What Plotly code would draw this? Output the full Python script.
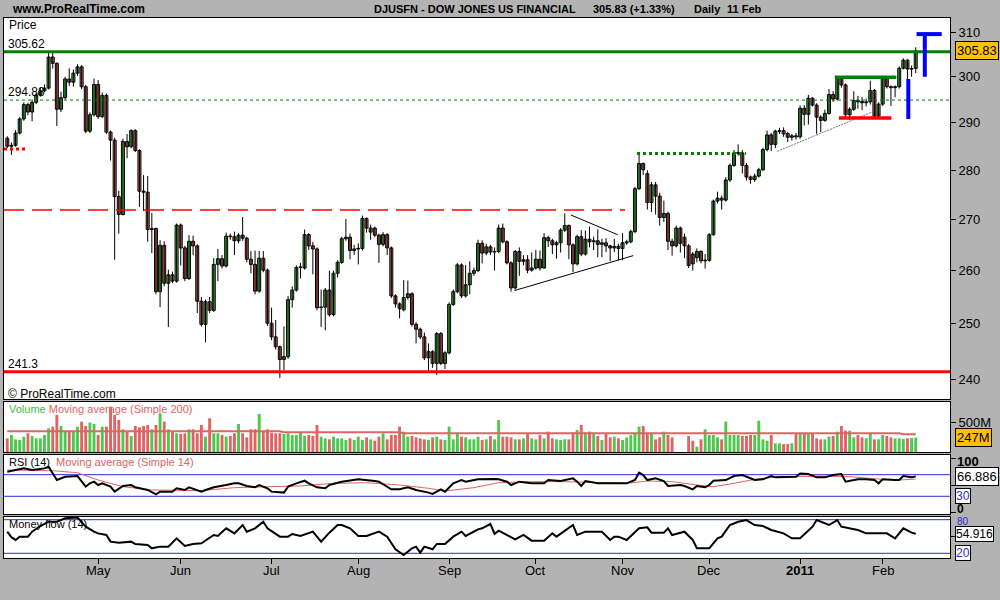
import math
import plotly.graph_objects as go

# ---------------- data ----------------
opens = [286.7, 285.0, 285.2, 287.8, 290.8, 293.9, 292.3, 294.4, 296.0, 296.9,
         297.5, 304.4, 303.0, 292.9, 295.4, 299.5, 298.8, 300.8, 302.2, 297.8,
         288.2, 291.7, 298.3, 291.3, 295.9, 288.0, 286.3, 274.6, 271.0, 286.0,
         284.9, 288.3, 284.1, 275.7, 275.5, 268.0, 268.2, 256.0, 264.9, 257.6,
         259.2, 258.0, 268.9, 264.4, 258.5, 265.7, 264.8, 254.2, 249.9, 254.1,
         252.5, 261.2, 262.3, 260.9, 266.7, 266.6, 265.8,
         266.9, 266.3, 262.2, 261.2, 256.1, 262.4, 260.1, 250.1, 247.6, 245.8,
         243.5, 244.0, 254.5, 256.3, 260.6, 260.5, 267.0, 264.8, 264.2, 253.0,
         253.1, 256.3, 251.7, 259.5, 261.6, 266.2, 266.5, 263.9, 264.2, 264.3,
         270.2, 267.5, 268.3, 266.9, 265.1, 267.0, 264.4, 255.2, 253.7, 252.6,
         254.9, 255.6, 249.9, 249.0, 247.6, 243.8, 244.9, 242.8, 248.2, 242.8,
         244.7, 253.6, 256.0, 261.1, 255.2, 257.3,
         259.5, 260.0, 265.3, 263.4, 264.6, 263.6, 263.7, 268.3, 265.6, 261.5,
         256.7, 263.7, 261.8, 262.1, 260.1, 260.5, 262.2, 260.5, 266.4, 265.8,
         265.0, 265.4, 267.9, 268.8, 265.0, 261.3, 266.6, 263.2, 266.1, 265.6,
         265.8, 265.1, 265.4, 264.8, 264.4, 264.7, 264.3, 265.4, 265.6,
         267.6, 276.2, 281.4, 279.3, 273.4, 277.0, 274.7, 270.4, 271.2, 265.7,
         264.8, 268.3, 266.5, 264.8, 263.2, 262.5, 263.7, 261.9, 262.0, 267.0,
         273.7, 274.3, 273.9, 278.0, 281.0, 283.5, 283.6, 281.0, 278.6, 278.1,
         278.8, 280.1, 284.3, 287.4,
         285.4, 288.1, 288.3, 287.7, 286.9, 287.2, 287.0, 293.1, 291.8, 295.3,
         293.8, 291.2, 290.5, 292.0, 296.1, 295.1, 299.6, 298.2, 291.7, 292.9,
         294.8, 294.6, 294.3, 294.5, 297.0, 291.4, 294.0, 299.6, 297.8, 297.6,
         297.8, 301.9, 303.7, 301.7, 301.83]
highs = [287.1, 285.8, 288.4, 291.2, 294.4, 294.3, 295.0, 296.5, 297.6, 298.3,
         305.4, 305.4, 303.2, 296.7, 300.0, 301.9, 301.6, 302.8, 302.6, 298.2,
         292.2, 299.6, 299.3, 296.5, 296.3, 288.3, 286.8, 275.8, 286.6, 287.6,
         288.6, 288.6, 284.4, 279.0, 278.8, 271.3, 268.4, 265.9, 265.7, 260.2,
         259.8, 269.2, 269.2, 264.8, 266.9, 266.8, 265.1, 255.0, 254.5, 255.0,
         262.4, 264.2, 263.0, 267.4, 267.2, 267.6, 267.3,
         270.5, 266.6, 263.8, 263.9, 263.8, 263.8, 260.4, 253.0, 250.7, 246.0,
         249.5, 255.2, 257.0, 261.0, 261.5, 268.0, 267.3, 265.6, 264.5, 256.4,
         256.7, 260.0, 260.0, 262.0, 266.6, 270.1, 267.2, 265.0, 265.3, 270.8,
         270.4, 269.0, 268.6, 267.2, 267.5, 267.3, 264.7, 255.5, 254.0, 258.2,
         258.1, 255.9, 250.3, 249.3, 248.4, 246.4, 245.2, 248.5, 248.5, 245.0,
         254.0, 256.4, 261.5, 261.4, 261.1, 261.8,
         260.6, 266.0, 265.9, 265.2, 265.0, 264.5, 269.0, 269.2, 265.9, 261.8,
         264.0, 264.5, 263.0, 263.0, 263.5, 264.0, 263.9, 267.3, 266.8, 266.2,
         265.8, 268.3, 271.2, 269.0, 265.3, 267.0, 267.9, 267.8, 268.6, 266.6,
         268.0, 266.2, 266.3, 265.0, 266.2, 265.2, 267.3, 266.0, 268.0,
         276.6, 283.5, 281.6, 280.0, 277.6, 277.6, 275.4, 273.8, 271.6, 266.2,
         268.8, 268.6, 267.2, 265.2, 263.6, 264.3, 264.0, 263.2, 267.3, 274.0,
         275.6, 274.8, 278.6, 281.4, 284.2, 285.4, 284.2, 281.5, 278.9, 279.3,
         280.5, 284.7, 288.3, 287.8,
         288.5, 288.9, 289.0, 288.0, 287.6, 287.8, 293.7, 293.8, 296.0, 295.5,
         294.2, 291.6, 292.8, 297.3, 296.8, 300.0, 300.0, 298.5, 293.3, 296.8,
         295.8, 295.6, 295.2, 299.1, 297.3, 294.4, 300.0, 300.0, 298.1, 298.1,
         302.3, 304.1, 304.0, 302.5, 306.6]
lows = [284.6, 283.2, 284.9, 287.5, 290.4, 291.6, 290.3, 294.0, 295.6, 296.6,
        297.2, 301.8, 289.3, 292.3, 295.0, 298.0, 297.8, 300.2, 297.3, 287.8,
        287.8, 291.3, 290.8, 291.0, 287.6, 282.0, 262.1, 267.2, 270.8, 282.5,
        284.6, 283.8, 272.5, 271.7, 265.6, 263.4, 255.5, 253.1, 257.0, 249.4,
        257.6, 257.7, 261.0, 258.0, 258.2, 263.0, 252.0, 249.5, 246.6, 252.0,
        252.2, 258.0, 260.4, 260.6, 266.0, 263.0, 265.3,
        265.8, 261.6, 259.5, 255.5, 255.8, 259.7, 249.6, 247.0, 245.3, 240.2,
        241.6, 243.6, 253.0, 256.0, 258.5, 260.2, 264.0, 259.3, 252.5, 249.4,
        248.8, 251.3, 251.4, 258.7, 261.3, 265.8, 262.2, 263.0, 261.2, 263.9,
        267.4, 266.0, 266.5, 261.5, 264.7, 263.0, 254.8, 253.0, 251.0, 252.3,
        254.5, 249.5, 246.4, 247.2, 243.4, 241.2, 242.0, 240.7, 242.5, 241.8,
        244.4, 253.3, 255.7, 254.8, 254.9, 255.5,
        259.0, 259.7, 261.4, 263.0, 263.0, 260.0, 263.4, 265.3, 261.2, 256.0,
        256.4, 259.0, 261.0, 259.5, 259.8, 260.2, 260.0, 260.4, 264.6, 263.2,
        262.3, 263.5, 267.5, 262.2, 259.7, 261.0, 262.8, 262.9, 264.5, 264.0,
        262.6, 262.6, 263.6, 261.8, 263.6, 262.0, 262.0, 265.0, 265.3,
        267.3, 276.0, 279.0, 272.0, 271.5, 271.0, 268.8, 269.5, 264.0, 262.9,
        264.5, 263.5, 262.4, 260.5, 260.0, 261.6, 261.4, 260.4, 261.7, 266.8,
        273.2, 272.0, 273.6, 277.6, 280.7, 283.0, 279.3, 277.9, 277.2, 277.6,
        278.5, 279.8, 283.9, 284.0,
        284.6, 287.6, 287.0, 285.9, 286.2, 286.4, 286.6, 289.4, 289.6, 293.5,
        287.6, 288.0, 290.2, 291.7, 294.5, 294.8, 297.6, 291.3, 290.6, 292.5,
        293.0, 292.7, 293.5, 293.9, 291.0, 291.0, 293.6, 297.4, 293.6, 295.5,
        297.4, 301.6, 299.4, 300.0, 300.8]
closes = [285.0, 285.2, 287.8, 290.8, 293.9, 292.3, 294.4, 296.0, 296.9, 297.5,
          304.4, 303.0, 292.9, 295.4, 299.5, 298.8, 300.8, 302.2, 297.8, 288.2,
          291.7, 298.3, 291.3, 295.9, 288.0, 286.3, 274.6, 271.0, 286.0, 284.9,
          288.3, 284.1, 275.7, 275.5, 268.0, 268.2, 256.0, 264.9, 257.6, 259.2,
          258.0, 268.9, 264.4, 258.5, 265.7, 264.8, 254.2, 249.9, 254.1, 252.5,
          261.2, 262.3, 260.9, 266.7, 266.6, 265.8, 266.9,
          266.3, 262.2, 261.2, 256.1, 262.4, 260.1, 250.1, 247.6, 245.8, 243.5,
          244.0, 254.5, 256.3, 260.6, 260.7, 267.0, 264.8, 264.2, 253.0, 253.1,
          256.3, 251.7, 259.5, 261.6, 266.2, 266.5, 263.9, 264.2, 264.3, 270.2,
          268.3, 268.3, 266.9, 265.1, 267.0, 264.4, 255.2, 253.7, 252.8, 254.9,
          255.6, 249.9, 249.0, 247.6, 243.8, 244.9, 242.8, 248.2, 242.8, 244.7,
          253.6, 256.0, 261.1, 255.2, 257.3, 259.5,
          260.0, 265.3, 263.4, 264.6, 263.6, 263.7, 268.3, 265.6, 261.5, 256.7,
          263.7, 261.8, 262.1, 260.1, 260.5, 262.2, 260.5, 266.4, 265.8, 265.0,
          265.4, 267.9, 268.8, 265.0, 261.3, 266.6, 263.2, 266.1, 265.6, 265.8,
          265.1, 265.4, 264.8, 264.4, 264.7, 264.3, 265.4, 265.6, 267.6,
          276.2, 281.4, 280.1, 273.4, 277.0, 274.7, 270.4, 271.2, 265.7, 264.8,
          268.3, 265.3, 264.8, 261.0, 261.3, 263.7, 261.9, 262.0, 267.0, 273.7,
          274.3, 273.9, 278.0, 281.0, 283.6, 283.7, 281.0, 278.6, 278.1, 278.8,
          280.1, 284.3, 287.4, 285.4,
          288.2, 288.3, 287.6, 286.9, 287.2, 287.0, 293.1, 291.8, 295.3, 293.8,
          291.2, 290.5, 292.0, 296.1, 295.1, 299.6, 298.2, 291.7, 292.9, 294.8,
          294.5, 294.3, 294.5, 297.0, 291.4, 294.0, 299.6, 297.8, 297.6, 297.8,
          301.9, 303.7, 301.7, 301.83, 305.83]

volume_m = [233, 290, 216, 205, 262, 319, 273, 233, 233, 290, 404,
            432, 632, 444, 347, 347, 347, 432, 518, 444, 501,
            478, 290, 432, 432, 774, 632, 546, 387, 347, 273,
            444, 421, 444, 461, 387, 461, 660, 518, 387, 347,
            319, 307, 319, 387, 387, 319, 462, 262, 575, 319,
            319, 290, 262, 273, 319, 478, 319, 250, 387, 387,
            650, 347, 387, 330, 319, 319, 307, 319, 290, 290,
            330, 273, 290, 273, 461, 262, 233, 216, 262, 233,
            233, 205, 233, 205, 262, 205, 250, 216, 193, 262,
            319, 216, 290, 290, 432, 347, 262, 273, 250, 233,
            216, 205, 250, 262, 216, 205, 432, 216, 319, 262,
            250, 216, 216, 262, 205, 216, 273, 216, 546,
            262, 262, 250, 216, 216, 233, 319, 233, 216, 290,
            233, 347, 233, 216, 205, 216, 216, 330, 376, 461,
            330, 347, 319, 273, 205, 319, 250, 262, 233, 205,
            250, 290, 319, 432, 444, 319, 319, 216, 250, 347,
            290, 250, 0, 0, 0,
            273, 193, 91, 216, 387, 290, 290, 250, 216, 518,
            290, 290, 290, 273, 273, 290, 290, 535, 216, 193,
            290, 148, 148, 137, 137, 148, 307, 307, 307, 307,
            307, 233, 216, 216, 262, 273, 347, 444, 364, 364,
            250, 290, 250, 233, 307, 216, 216, 290, 273, 250,
            233, 233, 222, 233, 240, 247]
volume_ma_idx = [0, 66, 67, 95, 96, 216, 217, 220]
volume_ma_val = [352, 352, 336, 336, 320, 320, 302, 302]

rsi_idx = [0, 2, 4, 6, 9, 10, 12, 14, 17, 19, 20, 21, 22, 23, 25, 26, 28, 30, 31, 34,
           36, 37, 40, 41, 43, 44, 47, 48, 50, 53, 55, 56, 58, 60, 61, 63, 64, 67, 68, 70,
           72, 73, 75, 77, 78, 81, 83, 85, 89, 90, 93, 95, 97, 99, 102, 103, 105, 106, 108, 110,
           111, 114, 118, 119, 121, 122, 124, 127, 130, 131, 134, 135, 137, 138, 139, 140, 142, 143, 147, 150,
           152, 153, 154, 155, 157, 159, 160, 163, 164, 166, 167, 169, 170, 171, 174, 176, 178, 181, 183, 185,
           186, 189, 191, 192, 194, 196, 198, 200, 202, 203, 206, 208, 210, 211, 212, 215, 216, 217, 219, 220]
rsi_val = [75.5, 78.6, 81.7, 78.6, 81.7, 84.7, 60.1, 66.3, 67.5, 47.8, 54.0, 57.1, 50.9, 54.0, 47.8, 38.6, 49.1, 50.9, 46.6, 41.7,
           33.7, 38.6, 38.6, 44.8, 41.7, 46.6, 38.6, 41.7, 46.6, 50.9, 54.0, 54.0, 49.1, 46.6, 50.9, 44.8, 38.6, 36.8, 47.8, 54.0,
           58.9, 54.0, 46.6, 44.8, 50.9, 57.1, 58.9, 61.4, 58.3, 57.1, 42.9, 42.9, 46.6, 41.7, 36.8, 34.3, 42.9, 38.6, 54.0, 60.1,
           57.1, 61.4, 62.0, 61.4, 57.1, 50.9, 57.1, 54.0, 54.0, 60.1, 58.3, 60.1, 63.2, 57.1, 49.1, 58.3, 55.2, 54.0, 54.0, 54.0,
           60.1, 73.7, 69.4, 60.1, 63.2, 58.3, 49.1, 50.9, 49.1, 42.9, 49.1, 46.6, 50.9, 58.9, 60.1, 67.5, 69.4, 60.1, 61.4, 67.5,
           65.1, 66.3, 66.3, 72.4, 71.2, 65.1, 65.1, 69.4, 71.2, 57.1, 61.4, 61.4, 60.1, 54.0, 61.4, 60.1, 60.1, 67.5, 65.1, 66.886]
rsi_ma_idx = [0, 11, 17, 22, 28, 35, 47, 55, 63, 71, 79, 87, 95, 102, 106, 113, 119,
              127, 135, 143, 150, 155, 161, 167, 171, 176, 181, 185, 192, 197, 204, 208, 212, 216, 220]
rsi_ma_val = [78.6, 77.4, 73.7, 60.1, 47.8, 41.7, 40.5, 46.0, 47.8, 49.1, 54.0, 55.2, 50.9, 44.8, 39.8, 46.0, 55.2,
              57.1, 57.1, 55.2, 54.0, 58.3, 57.1, 50.9, 47.8, 54.0, 61.4, 65.1, 66.3, 67.5, 66.3, 63.2, 61.4, 60.1, 62.0]

mf_idx = [0, 1, 2, 3, 5, 6, 8, 10, 12, 14, 17, 19, 21, 22, 24, 25, 27, 30, 31, 34,
          35, 37, 39, 41, 43, 45, 47, 50, 51, 53, 55, 57, 58, 60, 62, 63, 66, 68, 69, 71,
          74, 76, 78, 80, 81, 83, 85, 87, 90, 92, 94, 96, 98, 99, 100, 101, 103, 104, 106, 108,
          110, 111, 114, 115, 117, 118, 119, 121, 123, 125, 127, 130, 132, 133, 137, 138, 140, 144, 146, 147,
          148, 150, 153, 155, 156, 159, 160, 161, 164, 166, 167, 170, 172, 173, 175, 177, 179, 181, 183, 185,
          188, 190, 192, 195, 196, 199, 201, 202, 206, 208, 213, 215, 217, 219, 220]
mf_val = [58.6, 48.5, 43.8, 49.7, 49.7, 58.6, 68.7, 76.4, 76.4, 82.4, 84.0, 67.5, 58.6, 55.6, 52.7, 40.8, 39.0, 40.8, 36.6, 34.9,
          28.9, 31.9, 31.9, 46.7, 33.1, 36.6, 37.8, 52.7, 50.9, 64.6, 55.6, 70.5, 58.6, 64.6, 76.4, 64.6, 49.7, 49.7, 54.5, 50.9,
          58.6, 40.8, 56.8, 70.5, 70.5, 64.6, 50.9, 50.9, 58.6, 49.7, 27.1, 17.0, 28.9, 31.9, 21.2, 31.9, 27.1, 36.6, 36.6, 49.7,
          58.6, 50.9, 62.8, 64.6, 72.3, 54.5, 60.4, 52.7, 44.9, 52.7, 42.6, 42.6, 55.6, 49.7, 70.5, 52.7, 58.6, 58.6, 43.8, 49.7,
          49.7, 43.8, 64.6, 66.3, 56.8, 56.8, 64.6, 52.7, 58.6, 43.8, 28.9, 28.9, 46.7, 49.7, 70.5, 76.4, 79.4, 70.5, 68.7, 61.6,
          55.6, 46.7, 46.7, 67.5, 79.4, 70.5, 79.4, 67.5, 61.6, 55.6, 55.6, 46.7, 64.6, 56.8, 54.916]

month_idx = [22, 42, 64, 85, 107, 128, 149, 170, 192, 212]
month_lbl = ["May", "Jun", "Jul", "Aug", "Sep", "Oct", "Nov", "Dec", "<b>2011</b>", "Feb"]
price_ticks = [240, 250, 260, 270, 280, 290, 300, 310]

level_high = 305.62
level_mid = 294.88
level_low = 241.3
level_red_dash = 271.9
level_red_dot = 284.4
level_nov_high = 283.5
last_price = 305.83
last_volume = 247
last_rsi = 66.886
last_mf = 54.916

tri_upper_x, tri_upper_y = [136.5, 147.8], [270.9, 267.0]
tri_lower_x, tri_lower_y = [122.8, 151.6], [256.2, 262.9]
trend_x, trend_y = [186.5, 209.7], [283.95, 292.4]
box_top_x, box_top_y = [200.4, 215.3], [299.9, 299.9]
box_bot_x, box_bot_y = [201.4, 214.1], [291.0, 291.0]
blue_bar_x, blue_bar_y = [218.2, 218.2], [290.8, 299.5]
blue_t_vx, blue_t_vy = [222.2, 222.2], [300.0, 309.6]
blue_t_hx, blue_t_hy = [220.2, 226.3], [309.6, 309.6]

# ---------------- styling ----------------
GREEN = "#4CC84C"
RED = "#E06464"
BLUE = "#2B2BD9"
BG = "#B3B3B3"
FONT = "Liberation Sans, Arial, sans-serif"
W, H = 1000, 600
XR = [-0.8, 228.3]


def py(p):
    return 1 - p / H


n = len(closes)
idx = list(range(n))
fig = go.Figure()

# wicks
wx, wy = [], []
for i in idx:
    wx += [i, i, None]
    wy += [lows[i], highs[i], None]
fig.add_trace(go.Scatter(x=wx, y=wy, mode="lines", line=dict(color="black", width=1),
                         xaxis="x", yaxis="y", showlegend=False, hoverinfo="skip"))
# bodies
body_base = [min(o, c) for o, c in zip(opens, closes)]
body_len = [max(abs(c - o), 0.12) for o, c in zip(opens, closes)]
candle_colors = [GREEN if c >= o else RED for o, c in zip(opens, closes)]
fig.add_trace(go.Bar(x=idx, y=body_len, base=body_base, width=0.72,
                     marker=dict(color=candle_colors, line=dict(color="black", width=1)),
                     xaxis="x", yaxis="y", showlegend=False, hoverinfo="skip"))


def seg(xs, ys, color, width, dash="solid", ax=("x", "y")):
    fig.add_trace(go.Scatter(x=xs, y=ys, mode="lines",
                             line=dict(color=color, width=width, dash=dash),
                             xaxis=ax[0], yaxis=ax[1], showlegend=False,
                             hoverinfo="skip"))


seg(XR, [level_high] * 2, "#008000", 3)
seg(XR, [level_mid] * 2, "#008000", 1, "3px,3px")
seg(XR, [level_low] * 2, "#FF0000", 3)
seg([-0.8, 149.6], [level_red_dash] * 2, "#FF0000", 1.5, "20px,8px")
seg([-0.8, 4.3], [level_red_dot] * 2, "#FF0000", 3, "3px,3px")
seg([152.5, 178.9], [level_nov_high] * 2, "#008000", 3, "3px,3px")
seg(tri_upper_x, tri_upper_y, "black", 1)
seg(tri_lower_x, tri_lower_y, "black", 1)
seg(trend_x, trend_y, "#707070", 1, "2px,1px")
seg(box_top_x, box_top_y, "#008000", 3.5)
seg(box_bot_x, box_bot_y, "#FF0000", 3.5)
seg(blue_bar_x, blue_bar_y, "#0000FF", 4)
seg(blue_t_vx, blue_t_vy, "#0000FF", 4)
seg(blue_t_hx, blue_t_hy, "#0000FF", 4)

fig.add_trace(go.Bar(x=idx, y=volume_m, width=0.7, marker=dict(color=candle_colors, line=dict(width=0)),
                     xaxis="x2", yaxis="y2", showlegend=False, hoverinfo="skip"))
seg(volume_ma_idx, volume_ma_val, RED, 2, ax=("x2", "y2"))

seg(XR, [70, 70], BLUE, 1, ax=("x3", "y3"))
seg(XR, [30, 30], BLUE, 1, ax=("x3", "y3"))
seg(rsi_ma_idx, rsi_ma_val, RED, 1, ax=("x3", "y3"))
seg(rsi_idx, rsi_val, "black", 2, ax=("x3", "y3"))

seg(XR, [80, 80], BLUE, 1, ax=("x4", "y4"))
seg(XR, [20, 20], BLUE, 1, ax=("x4", "y4"))
seg(mf_idx, mf_val, "black", 2, ax=("x4", "y4"))

frame = dict(showgrid=False, zeroline=False, showline=True, mirror=True,
             linecolor="black", linewidth=1)
xdom = [4 / W, 950 / W]
tickfont = dict(family=FONT, size=13, color="black")

layout = dict(
    width=W, height=H, margin=dict(l=0, r=0, t=0, b=0),
    paper_bgcolor=BG, plot_bgcolor="white", barmode="overlay",
    font=dict(family=FONT, size=12, color="black"),
    showlegend=False, hovermode=False,
    xaxis=dict(domain=xdom, range=XR, anchor="y", showticklabels=False, ticks="", **frame),
    xaxis2=dict(domain=xdom, range=XR, anchor="y2", showticklabels=False, ticks="", **frame),
    xaxis3=dict(domain=xdom, range=XR, anchor="y3", showticklabels=False, ticks="", **frame),
    xaxis4=dict(domain=xdom, range=XR, anchor="y4", tickvals=month_idx, showticklabels=False,
                ticks="outside", ticklen=5, tickcolor="black", **frame),
    yaxis=dict(domain=[py(399), py(18)], type="log", anchor="x", side="right",
               range=[math.log10(236.5), math.log10(313.3)], tickvals=price_ticks,
               ticks="outside", ticklen=5, tickcolor="black", tickfont=tickfont, **frame),
    yaxis2=dict(domain=[py(452), py(402)], anchor="x2", side="right", range=[0, 853],
                tickvals=[500], ticktext=["500M"], ticks="outside", ticklen=5,
                tickcolor="black", tickfont=tickfont, **frame),
    yaxis3=dict(domain=[py(514), py(455)], anchor="x3", side="right", range=[-2.8, 106.5],
                tickvals=[0, 50, 100], showticklabels=False, ticks="outside", ticklen=5,
                tickcolor="black", **frame),
    yaxis4=dict(domain=[py(558), py(517)], anchor="x4", side="right", range=[11.6, 84.8],
                tickvals=[50], showticklabels=False, ticks="outside", ticklen=5,
                tickcolor="black", **frame),
)
fig.update_layout(**layout)

ann = []


def text(x_px, y_px, s, size=12, color="black", bold=False, xanchor="left"):
    ann.append(dict(x=x_px / W, y=py(y_px), xref="paper", yref="paper", text=("<b>%s</b>" % s) if bold else s,
                    showarrow=False, xanchor=xanchor, yanchor="middle",
                    font=dict(family=FONT, size=size, color=color)))


def level_label(v, s):
    ann.append(dict(x=6 / W, y=math.log10(v), xref="paper", yref="y", text=s, showarrow=False,
                    xanchor="left", yanchor="bottom", yshift=-1,
                    font=dict(family=FONT, size=12, color="black")))


def value_box(yref, yval, s, bg, color="black", size=13, pad=1):
    ann.append(dict(x=955 / W, y=yval, xref="paper", yref=yref, text=s, showarrow=False,
                    xanchor="left", yanchor="middle", bgcolor=bg, bordercolor="black",
                    borderwidth=1, borderpad=pad, font=dict(family=FONT, size=size, color=color)))


nb = "\u00a0"
text(10, 9, "www.ProRealTime.com", 12, bold=True)
text(372, 9, "DJUSFN - DOW JONES US FINANCIAL", 11, bold=True)
text(591, 9, "305.83 (+1.33%)", 11, bold=True)
text(692, 9, "Daily", 11, bold=True)
text(725, 9, "11 Feb", 11, bold=True)
text(7, 25, "Price", 12)
level_label(level_high, "305.62")
level_label(level_mid, "294.88")
level_label(level_low, "241.3")
text(6, 394, "\u00a9 ProRealTime.com", 12)
text(7, 409, "<span style='color:#44BB44'>Volume</span> "
     "<span style='color:#E06464'>Moving average (Simple 200)</span>", 11)
text(7, 462, "RSI (14)" + nb * 2 + "<span style='color:#E06464'>Moving average (Simple 14)</span>", 11)
text(7, 524, "Money flow (14)", 11)

for mi, ml in zip(month_idx, month_lbl):
    ann.append(dict(x=mi, y=py(570), xref="x4", yref="paper", text=ml, showarrow=False,
                    xanchor="center", yanchor="middle", font=dict(family=FONT, size=13, color="black")))

value_box("y", math.log10(last_price), "%.2f" % last_price, "#FFC000")
value_box("y2", last_volume, "%dM" % last_volume, "#FFC000")
value_box("y3", last_rsi, "%.3f" % last_rsi, "white")
value_box("y3", 30, "30", "white", BLUE, 12, 0)
value_box("y4", last_mf, "%.3f" % last_mf, "white", "black", 12, 0)
value_box("y4", 20, "20", "white", BLUE, 12, 0)
text(955, 461, "100", 13, bold=True)
text(955, 509, "0", 12, bold=True)
text(955, 521, "80", 10, BLUE)

fig.update_layout(annotations=ann)
fig.write_html("out.html", config={"displayModeBar": False},
               post_script="document.body.style.margin='0';document.body.style.background='%s';" % BG)
